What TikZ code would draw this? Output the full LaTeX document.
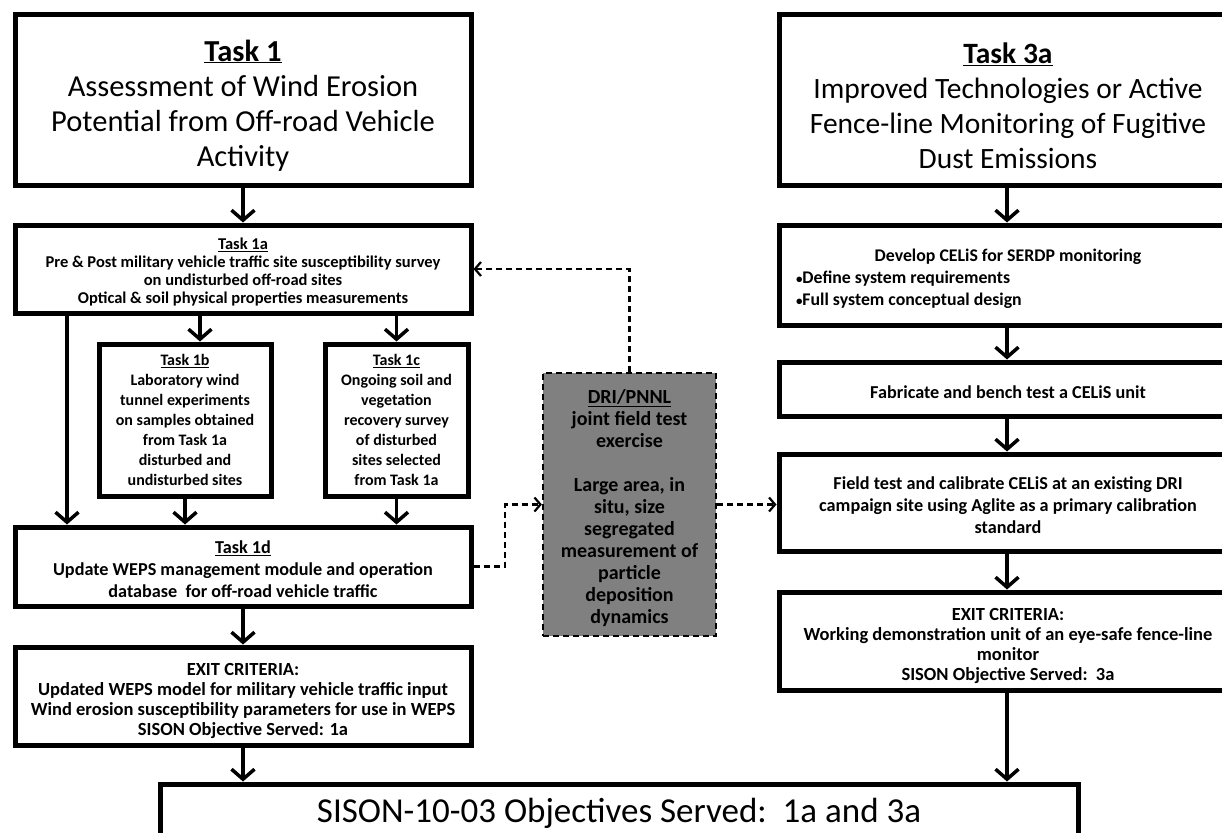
\documentclass[tikz,border=0pt]{standalone}
\usepackage{fontspec}
\setmainfont{Carlito}
\usetikzlibrary{arrows.meta}
\newcommand\fsz[2]{\fontsize{#1}{#2}\selectfont}
\newcommand\lowr[1]{\rule{0pt}{#1}}
\definecolor{drigray}{RGB}{128,128,128}
\begin{document}
\begin{tikzpicture}[x=1pt,y=-1pt,
  box/.style={draw, line width=5pt, fill=white, align=center, inner sep=0pt},
  arr/.style={line width=3.5pt, -{Straight Barb[length=10pt,width=23pt]}},
  darr/.style={line width=2.2pt, dash pattern=on 6pt off 4pt, -{Straight Barb[length=6pt,width=14pt]}},
  small/.style={font=\bfseries\fsz{16}{20}},
  exitf/.style={font=\bfseries\fsz{18.5}{20}}
]
\useasboundingbox (0,0) rectangle (1222,832);
\clip (0,0) rectangle (1222,832);

% left column
\node[box, minimum width=456pt, minimum height=170pt, font=\fsz{30.5}{35}] (t1) at (243,100)
  {\lowr{32pt}\textbf{\underline{Task 1}}\\Assessment of Wind Erosion\\Potential from Off-road Vehicle\\Activity};
\node[box, minimum width=456pt, minimum height=88pt, font=\bfseries\fsz{16.5}{18}] (t1a) at (243,269)
  {\lowr{18pt}\underline{Task 1a}\\Pre \& Post military vehicle traffic site susceptibility survey\\on undisturbed off-road sites\\Optical \& soil physical properties measurements};
\node[box, small, minimum width=172pt, minimum height=152pt] (t1b) at (185,420)
  {\underline{Task 1b}\\Laboratory wind\\tunnel experiments\\on samples obtained\\from Task 1a\\disturbed and\\undisturbed sites};
\node[box, small, minimum width=143pt, minimum height=152pt] (t1c) at (396.5,420)
  {\underline{Task 1c}\\Ongoing soil and\\vegetation\\recovery survey\\of disturbed\\sites selected\\from Task 1a};
\node[box, minimum width=456pt, minimum height=79pt, font=\bfseries\fsz{18.2}{22}] (t1d) at (243,566.5)
  {\lowr{18pt}\underline{Task 1d}\\Update WEPS management module and operation\\database\ \ for off-road vehicle traffic};
\node[box, exitf, minimum width=456pt, minimum height=98pt] (ex1) at (243,696)
  {\lowr{22pt}EXIT CRITERIA:\\Updated WEPS model for military vehicle traffic input\\Wind erosion susceptibility parameters for use in WEPS\\SISON Objective Served: 1a};

% right column
\node[box, minimum width=458pt, minimum height=170pt, font=\fsz{29.5}{35}] (t3a) at (1008,100)
  {\lowr{32pt}\textbf{\underline{Task 3a}}\\Improved Technologies or Active\\Fence-line Monitoring of Fugitive\\Dust Emissions};
\node[draw, line width=5pt, fill=white, align=center, inner xsep=14pt, inner ysep=0pt, minimum width=458pt, minimum height=100pt, font=\bfseries\fsz{17.8}{22}] (dev) at (1008,275)
  {\lowr{21pt}\makebox[430pt][c]{Develop CELiS for SERDP monitoring}\\\makebox[430pt][l]{\hspace{3pt}{\fsz{13}{22}\textbullet}Define system requirements}\\\makebox[430pt][l]{\hspace{3pt}{\fsz{13}{22}\textbullet}Full system conceptual design}};
\node[box, minimum width=458pt, minimum height=54pt, font=\bfseries\fsz{18.2}{22}] (fab) at (1008,389)
  {\lowr{19pt}Fabricate and bench test a CELiS unit};
\node[box, minimum width=458pt, minimum height=97pt, font=\bfseries\fsz{18.2}{22}] (fld) at (1008,502.5)
  {\lowr{19pt}Field test and calibrate CELiS at an existing DRI\\campaign site using Aglite as a primary calibration\\standard};
\node[box, exitf, minimum width=458pt, minimum height=98pt] (ex3) at (1008,641)
  {\lowr{22pt}EXIT CRITERIA:\\Working demonstration unit of an eye-safe fence-line\\monitor\\SISON Objective Served:\ \ 3a};

% middle
\node[draw, fill=drigray, line width=2.2pt, dash pattern=on 6pt off 4pt, align=center, inner sep=0pt,
  minimum width=173pt, minimum height=263pt, font=\bfseries\fsz{20}{22}] (dri) at (629.5,504.5)
  {\lowr{22pt}\underline{DRI/PNNL}\\joint field test\\exercise\\[22pt]Large area, in\\situ, size\\segregated\\measurement of\\particle\\deposition\\dynamics};

% bottom
\node[box, minimum width=918pt, minimum height=58pt, font=\fsz{35}{40}] (fin) at (619,813)
  {SISON-10-03 Objectives Served:\ \ 1a and 3a};

\coordinate (xl) at (67,0);
\coordinate (xb) at (200,0);
\coordinate (xd) at (505,0);
\coordinate (xr) at (1007,0);

% solid arrows left
\draw[arr] (t1) -- (t1a);
\draw[arr] (t1a.south -| xb) -- (t1b.north -| xb);
\draw[arr] (t1a.south -| t1c.north) -- (t1c.north);
\draw[arr] (t1a.south -| xl) -- (t1d.north -| xl);
\draw[arr] (t1b.south) -- (t1d.north -| t1b.south);
\draw[arr] (t1c.south) -- (t1d.north -| t1c.south);
\draw[arr] (t1d) -- (ex1);
\draw[arr] (ex1.south) -- (fin.north -| ex1.south);

% solid arrows right
\draw[arr] (t3a.south -| xr) -- (dev.north -| xr);
\draw[arr] (dev.south -| xr) -- (fab.north -| xr);
\draw[arr] (fab.south -| xr) -- (fld.north -| xr);
\draw[arr] (fld.south -| xr) -- (ex3.north -| xr);
\draw[arr] (ex3.south -| xr) -- (fin.north -| xr);

% dashed arrows
\draw[darr] (dri.north) |- (t1a.east);
\draw[darr] (t1d.east) -- (t1d.east -| xd) |- (dri.west);
\draw[darr] (dri.east) -- (dri.east -| fld.west);
\end{tikzpicture}
\end{document}
